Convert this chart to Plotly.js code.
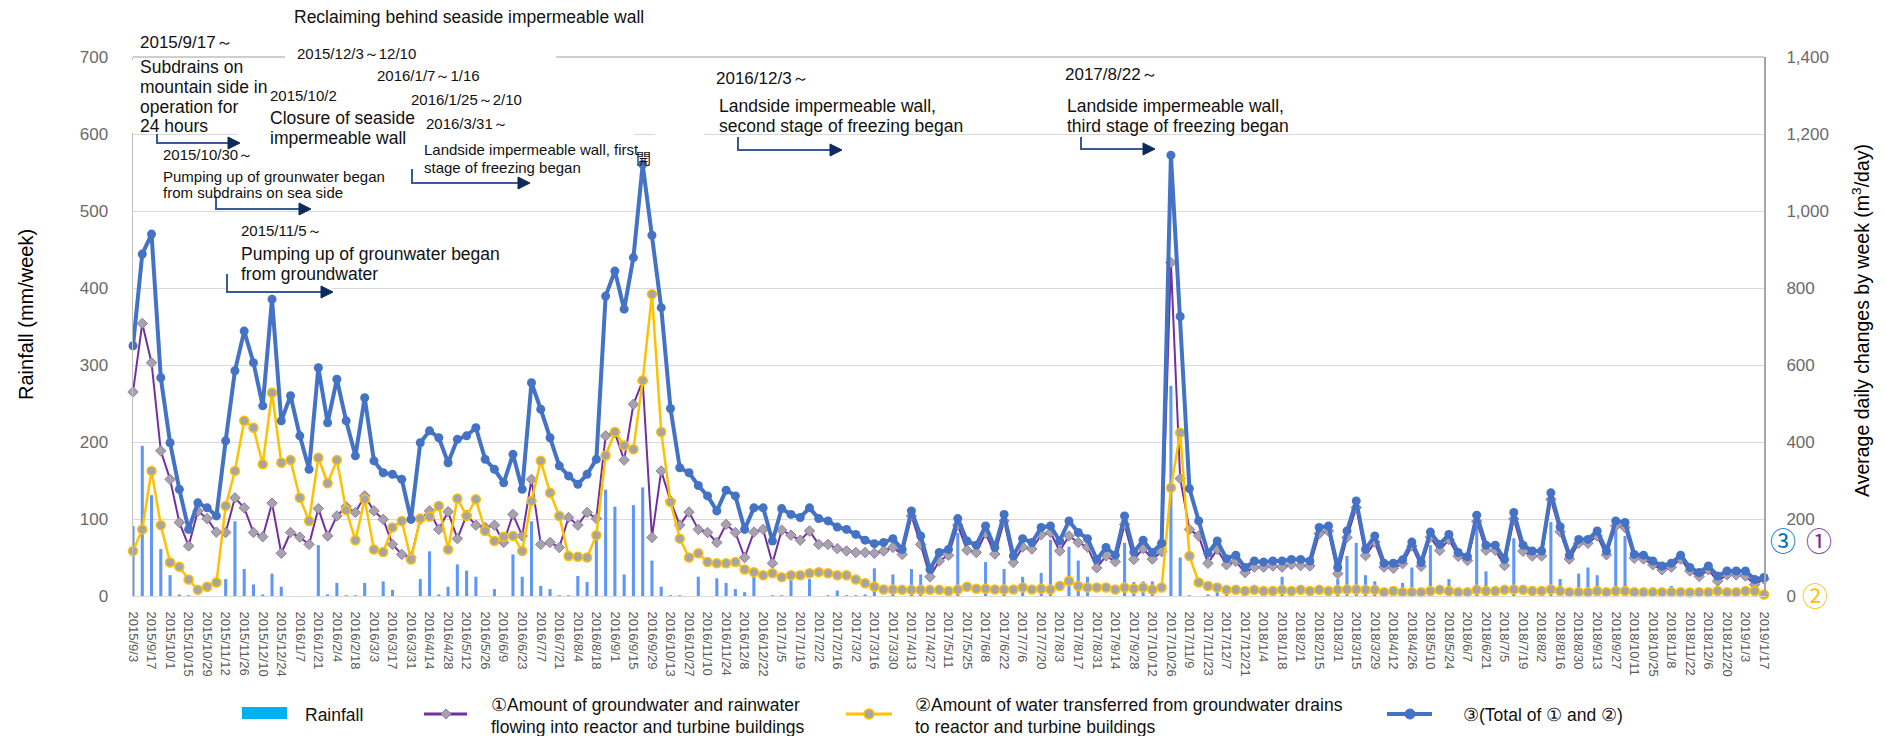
<!DOCTYPE html>
<html>
<head>
<meta charset="utf-8">
<script src="https://cdn.plot.ly/plotly-3.0.1.min.js"></script>
<style>html,body{margin:0;padding:0;background:#fff;}#chart{width:1885px;height:736px;}</style>
</head>
<body>
<div id="chart"></div>
<script>
// ---------------- DATA ----------------
const weeks = [
"2015/9/3","2015/9/10","2015/9/17","2015/9/24","2015/10/1","2015/10/8","2015/10/15","2015/10/22","2015/10/29","2015/11/5","2015/11/12","2015/11/19","2015/11/26","2015/12/3","2015/12/10","2015/12/17","2015/12/24","2015/12/31",
"2016/1/7","2016/1/14","2016/1/21","2016/1/28","2016/2/4","2016/2/11","2016/2/18","2016/2/25","2016/3/3","2016/3/10","2016/3/17","2016/3/24","2016/3/31","2016/4/7","2016/4/14","2016/4/21","2016/4/28","2016/5/5","2016/5/12","2016/5/19","2016/5/26","2016/6/2","2016/6/9","2016/6/16","2016/6/23","2016/6/30","2016/7/7","2016/7/14","2016/7/21","2016/7/28","2016/8/4","2016/8/11","2016/8/18","2016/8/25","2016/9/1","2016/9/8","2016/9/15","2016/9/22","2016/9/29","2016/10/6","2016/10/13","2016/10/20","2016/10/27","2016/11/3","2016/11/10","2016/11/17","2016/11/24","2016/12/1","2016/12/8","2016/12/15","2016/12/22","2016/12/29",
"2017/1/5","2017/1/12","2017/1/19","2017/1/26","2017/2/2","2017/2/9","2017/2/16","2017/2/23","2017/3/2","2017/3/9","2017/3/16","2017/3/23","2017/3/30","2017/4/6","2017/4/13","2017/4/20","2017/4/27","2017/5/4","2017/5/11","2017/5/18","2017/5/25","2017/6/1","2017/6/8","2017/6/15","2017/6/22","2017/6/29","2017/7/6","2017/7/13","2017/7/20","2017/7/27","2017/8/3","2017/8/10","2017/8/17","2017/8/24","2017/8/31","2017/9/7","2017/9/14","2017/9/21","2017/9/28","2017/10/5","2017/10/12","2017/10/19","2017/10/26","2017/11/2","2017/11/9","2017/11/16","2017/11/23","2017/11/30","2017/12/7","2017/12/14","2017/12/21","2017/12/28",
"2018/1/4","2018/1/11","2018/1/18","2018/1/25","2018/2/1","2018/2/8","2018/2/15","2018/2/22","2018/3/1","2018/3/8","2018/3/15","2018/3/22","2018/3/29","2018/4/5","2018/4/12","2018/4/19","2018/4/26","2018/5/3","2018/5/10","2018/5/17","2018/5/24","2018/5/31","2018/6/7","2018/6/14","2018/6/21","2018/6/28","2018/7/5","2018/7/12","2018/7/19","2018/7/26","2018/8/2","2018/8/9","2018/8/16","2018/8/23","2018/8/30","2018/9/6","2018/9/13","2018/9/20","2018/9/27","2018/10/4","2018/10/11","2018/10/18","2018/10/25","2018/11/1","2018/11/8","2018/11/15","2018/11/22","2018/11/29","2018/12/6","2018/12/13","2018/12/20","2018/12/27",
"2019/1/3","2019/1/10","2019/1/17"];

// tick labels: every other week
const tickLabels = weeks.filter((d, i) => i % 2 === 0);

// Rainfall (mm/week)
const rainfall = [
91,195,131,61,27,2,1,0,0,0,
22,97,35,15,2,29,12,0,0,0,
66,2,17,1,1,17,0,19,8,0,
0,22,58,2,12,41,33,25,0,9,
0,54,25,97,13,9,1,1,26,18,
76,138,116,28,118,141,46,12,1,1,
0,25,0,23,17,9,5,25,0,1,
1,22,0,22,0,1,7,1,1,2,
36,0,28,0,35,28,0,0,0,82,
0,0,44,0,35,0,25,0,30,73,
0,64,46,25,0,0,0,69,18,19,
19,0,273,50,1,0,2,15,14,0,
0,0,0,0,25,0,0,0,0,0,
22,52,69,27,19,0,0,17,37,0,
66,0,22,0,0,95,32,0,0,75,
0,0,13,96,22,0,29,37,27,0,
88,78,0,0,0,0,13,0,0,0,
0,0,0,0,0,0,0];

// (1) groundwater and rainwater flowing into buildings (m3/day)
const inflow = [
530,708,606,377,303,191,130,221,201,166,
165,255,229,165,154,241,111,165,153,134,
227,156,208,232,217,260,221,199,134,108,
100,199,221,173,219,149,210,184,178,184,
139,212,156,303,134,139,126,204,184,217,
201,416,424,353,498,559,152,325,247,184,
218,173,165,139,186,165,100,166,173,85,
171,158,145,169,134,134,123,117,113,113,
111,117,126,108,208,134,50,91,106,184,
119,113,163,109,195,87,127,122,159,165,
117,156,139,127,73,104,89,186,95,123,
96,115,866,305,173,156,85,121,81,90,
61,75,75,78,75,82,79,78,162,169,
58,152,230,105,140,75,72,84,130,77,
153,118,147,103,92,194,119,119,79,200,
116,104,104,251,167,96,137,137,156,107,
182,178,98,96,81,68,75,96,65,51,
68,39,55,55,52,30,44];

// (2) water transferred from groundwater drains (m3/day)
const transferred = [
117,173,325,184,87,76,43,16,24,35,
234,325,455,437,342,528,346,353,255,195,
359,293,353,223,145,251,121,114,178,195,
95,201,206,234,121,253,208,251,169,143,
154,156,117,247,351,268,208,104,102,100,
158,365,426,391,381,560,784,426,244,149,
100,111,88,85,85,88,69,62,54,59,
49,54,54,59,62,59,54,54,43,33,
24,17,17,16,16,16,16,16,13,17,
24,19,19,17,17,17,22,17,19,17,
26,39,26,22,22,22,17,22,19,22,
17,22,281,424,104,35,26,22,16,16,
13,16,13,13,16,13,16,13,16,13,
16,17,17,16,16,10,13,10,10,10,
13,16,13,10,10,16,13,13,16,17,
16,13,13,17,13,10,10,10,13,10,
13,13,10,10,10,10,10,10,9,10,
10,13,10,10,13,13,4];

// (3) total of (1) and (2) (m3/day)
const total = [
650,888,940,567,398,277,173,242,229,208,
403,585,688,606,494,771,455,520,416,329,
593,450,563,455,364,515,351,320,316,303,
199,398,429,411,346,407,416,437,355,329,
294,368,277,554,485,411,338,312,290,316,
355,779,844,745,879,1121,937,749,487,333,
320,287,260,221,275,260,173,229,229,143,
227,212,204,229,201,195,179,173,160,145,
136,139,149,121,221,156,69,113,121,201,
143,132,182,126,212,104,149,139,178,182,
143,195,165,149,95,126,106,208,114,145,
113,137,1145,726,279,195,111,143,97,106,
74,91,88,91,91,95,95,91,178,182,
74,169,247,121,156,85,85,94,140,87,
166,134,160,113,102,210,132,132,95,217,
132,117,117,268,180,106,147,147,169,117,
195,191,108,106,91,78,85,106,74,61,
78,52,65,65,65,43,48];

// ---------------- GEOMETRY HELPERS (pixel -> paper) ----------------
const ML = 133, MT = 57, PW = 1631, PH = 539;
const px = x => (x - ML) / PW;
const py = y => (MT + PH - y) / PH;

const FONT = 'Liberation Sans, Arial, sans-serif';
const annotations = [];
const shapes = [];

function txt(text, x, y, size, opts) {
  annotations.push(Object.assign({
    text: text, xref: 'paper', yref: 'paper', x: px(x), y: py(y),
    xanchor: 'left', yanchor: 'middle', showarrow: false, borderpad: 0,
    font: {family: FONT, size: size, color: '#111111'}
  }, opts || {}));
}
function whiteBox(x0, x1, y0, y1) {
  shapes.push({type: 'rect', xref: 'paper', yref: 'paper', layer: 'above',
    x0: px(x0), x1: px(x1), y0: py(y1), y1: py(y0),
    line: {width: 0}, fillcolor: '#ffffff'});
}
function elbowArrow(xv, yTop, yBot, xEnd) {
  shapes.push({type: 'path', xref: 'paper', yref: 'paper', layer: 'above',
    path: `M ${px(xv)} ${py(yTop)} L ${px(xv)} ${py(yBot)} L ${px(xEnd - 9)} ${py(yBot)}`,
    line: {color: '#3A5A94', width: 2}});
  shapes.push({type: 'path', xref: 'paper', yref: 'paper', layer: 'above',
    path: `M ${px(xEnd)} ${py(yBot)} L ${px(xEnd - 12)} ${py(yBot - 6)} L ${px(xEnd - 12)} ${py(yBot + 6)} Z`,
    line: {color: '#0E2A5C', width: 1}, fillcolor: '#0E2A5C'});
}

// top border of the plot area
shapes.push({type: 'line', xref: 'paper', yref: 'paper', layer: 'above',
  x0: 0, x1: 1, y0: 1, y1: 1, line: {color: '#BFBFBF', width: 1.5}});

// white text-box backgrounds that hide grid pieces
whiteBox(127, 270, 60, 133);
whiteBox(285, 556, 47, 66);
whiteBox(238, 634, 131, 139);
whiteBox(655, 704, 130, 140);
whiteBox(226, 332, 285, 290);

// arrows
elbowArrow(157, 134, 143, 240);
elbowArrow(216, 197, 209, 311);
elbowArrow(227, 274, 292, 333);
elbowArrow(412, 169, 183, 530);
elbowArrow(738, 137, 150, 842);
elbowArrow(1081, 137, 149, 1155);

// event texts
txt('Reclaiming behind seaside impermeable wall', 293, 17, 17.5);
txt('2015/9/17～', 139, 43, 17);
txt('Subdrains on', 139, 67, 17.5);
txt('mountain side in', 139, 87, 17.5);
txt('operation for', 139, 107, 17.5);
txt('24 hours', 139, 126, 17.5);
txt('2015/10/30～', 162, 154, 15);
txt('Pumping up of grounwater began', 162, 176, 15);
txt('from subdrains on sea side', 162, 193, 15);
txt('2015/11/5～', 240, 230, 15);
txt('Pumping up of grounwater began', 240, 254, 17.5);
txt('from groundwater', 240, 274, 17.5);
txt('2015/12/3～12/10', 296, 53, 15);
txt('2015/10/2', 269, 95, 15);
txt('Closure of seaside', 269, 118, 17.5);
txt('impermeable wall', 269, 138, 17.5);
txt('2016/1/7～1/16', 376, 75, 15);
txt('2016/1/25～2/10', 410, 99, 15);
txt('2016/3/31～', 425, 124, 15);
txt('開', 635, 157, 15, {font: {family: 'Noto Sans CJK JP', size: 15, color: '#111'}});
txt('Landside impermeable wall, first', 423, 149, 15);
txt('stage of freezing began', 423, 167, 15);
txt('2016/12/3～', 715, 78, 17);
txt('Landside impermeable wall,', 718, 106, 17.5);
txt('second stage of freezing began', 718, 126, 17.5);
txt('2017/8/22～', 1064, 74, 17);
txt('Landside impermeable wall,', 1066, 106, 17.5);
txt('third stage of freezing began', 1066, 126, 17.5);

// axis titles
txt('Rainfall (mm/week)', 26, 315, 20, {xanchor: 'center', textangle: -90, font: {family: FONT, size: 20, color: '#000'}});
txt('Average daily changes by week (m<sup>3</sup>/day)', 1861, 320, 19.5, {xanchor: 'center', textangle: -90, font: {family: FONT, size: 19.5, color: '#000'}});

// circled series markers on the right
txt('③', 1783, 539, 26, {xanchor: 'center', font: {family: 'Noto Sans CJK JP', size: 26, color: '#0070C0'}});
txt('①', 1819, 539, 26, {xanchor: 'center', font: {family: 'Noto Sans CJK JP', size: 26, color: '#7030A0'}});
txt('②', 1815, 594, 26, {xanchor: 'center', font: {family: 'Noto Sans CJK JP', size: 26, color: '#FFC000'}});

// custom legend
shapes.push({type: 'rect', xref: 'paper', yref: 'paper', x0: px(242), x1: px(287), y0: py(719), y1: py(707), line: {width: 0}, fillcolor: '#00B0F0'});
shapes.push({type: 'line', xref: 'paper', yref: 'paper', x0: px(424), x1: px(467), y0: py(714), y1: py(714), line: {color: '#7030A0', width: 3}});
shapes.push({type: 'path', xref: 'paper', yref: 'paper', path: `M ${px(446)} ${py(709)} L ${px(451)} ${py(714)} L ${px(446)} ${py(719)} L ${px(441)} ${py(714)} Z`, line: {color: '#9673B9', width: 1}, fillcolor: '#A5A5A5'});
shapes.push({type: 'line', xref: 'paper', yref: 'paper', x0: px(846), x1: px(892), y0: py(714), y1: py(714), line: {color: '#FFC000', width: 3}});
shapes.push({type: 'circle', xref: 'paper', yref: 'paper', x0: px(864), x1: px(874), y0: py(719), y1: py(709), line: {color: '#FFC000', width: 1.5}, fillcolor: '#A5A5A5'});
shapes.push({type: 'line', xref: 'paper', yref: 'paper', x0: px(1387), x1: px(1432), y0: py(714), y1: py(714), line: {color: '#4472C4', width: 4}});
shapes.push({type: 'circle', xref: 'paper', yref: 'paper', x0: px(1405), x1: px(1415), y0: py(719), y1: py(709), line: {color: '#4472C4', width: 1}, fillcolor: '#4472C4'});
txt('Rainfall', 304, 715, 17.5);
txt('①Amount of groundwater and rainwater', 490, 705, 17.5);
txt('flowing into reactor and turbine buildings', 490, 727, 17.5);
txt('②Amount of water transferred from groundwater drains', 914, 705, 17.5);
txt('to reactor and turbine buildings', 914, 727, 17.5);
txt('③(Total of ① and ②)', 1462, 715, 17.5);

// ---------------- TRACES ----------------
const traces = [
  {type: 'bar', name: 'Rainfall', x: weeks, y: rainfall, yaxis: 'y',
   width: 0.33, marker: {color: '#5E97F6', line: {width: 0}}},
  {type: 'scatter', mode: 'lines+markers', name: '①', x: weeks, y: inflow, yaxis: 'y2',
   cliponaxis: false,
   line: {color: '#7030A0', width: 2},
   marker: {symbol: 'diamond', size: 8, color: '#A5A5A5', line: {color: '#9673B9', width: 1}}},
  {type: 'scatter', mode: 'lines+markers', name: '②', x: weeks, y: transferred, yaxis: 'y2',
   cliponaxis: false,
   line: {color: '#FFC000', width: 2.5},
   marker: {symbol: 'circle', size: 9, color: '#A5A5A5', line: {color: '#FFC000', width: 1.5}}},
  {type: 'scatter', mode: 'lines+markers', name: '③', x: weeks, y: total, yaxis: 'y2',
   cliponaxis: false,
   line: {color: '#4472C4', width: 4},
   marker: {symbol: 'circle', size: 9, color: '#4472C4'}}
];

const layout = {
  width: 1885, height: 736,
  margin: {l: ML, r: 1885 - ML - PW, t: MT, b: 736 - MT - PH, pad: 0},
  paper_bgcolor: '#ffffff', plot_bgcolor: '#ffffff',
  font: {family: FONT, color: '#595959'},
  showlegend: false,
  barmode: 'overlay',
  xaxis: {
    type: 'category', range: [0, weeks.length - 1],
    tickmode: 'array', tickvals: tickLabels, ticktext: tickLabels,
    tickangle: 90, tickfont: {family: FONT, size: 13, color: '#595959'},
    ticks: '', ticklabelstandoff: 12,
    showgrid: false, showline: true, linecolor: '#D9D9D9', linewidth: 1,
    zeroline: false, fixedrange: true
  },
  yaxis: {
    range: [0, 700], dtick: 100, tick0: 0,
    showgrid: true, gridcolor: '#D9D9D9', gridwidth: 1,
    showline: true, linecolor: '#BFBFBF', linewidth: 1.5,
    ticks: '', ticklabelstandoff: 20,
    tickfont: {family: FONT, size: 17, color: '#6A6A6A'},
    zeroline: false, fixedrange: true
  },
  yaxis2: {
    overlaying: 'y', side: 'right',
    range: [0, 1400], dtick: 200, tick0: 0, tickformat: ',d',
    showgrid: false, showline: true, linecolor: '#A6A6A6', linewidth: 2,
    ticks: '', ticklabelstandoff: 17,
    tickfont: {family: FONT, size: 17, color: '#6A6A6A'},
    zeroline: false, fixedrange: true
  },
  annotations: annotations,
  shapes: shapes
};

Plotly.newPlot('chart', traces, layout, {staticPlot: true, displayModeBar: false});
</script>
</body>
</html>
